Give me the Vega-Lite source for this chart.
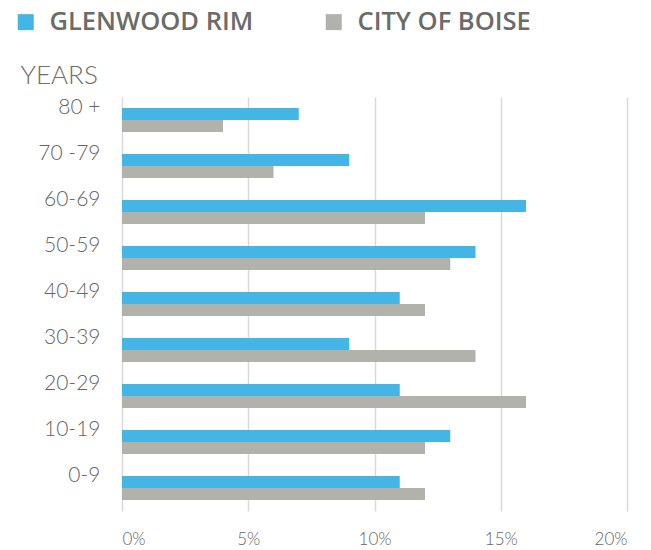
{
  "$schema": "https://vega.github.io/schema/vega-lite/v6.json",
  "autosize": {"type": "none"},
  "width": 505,
  "height": 414,
  "padding": {"left": 122, "top": 97, "right": 24, "bottom": 39},
  "background": "white",
  "config": {
    "font": "Lato",
    "view": {"stroke": null}
  },
  "data": {
    "values": [
      {"age": "80 +", "series": "GLENWOOD RIM", "pct": 0.07},
      {"age": "80 +", "series": "CITY OF BOISE", "pct": 0.04},
      {"age": "70 -79", "series": "GLENWOOD RIM", "pct": 0.09},
      {"age": "70 -79", "series": "CITY OF BOISE", "pct": 0.06},
      {"age": "60-69", "series": "GLENWOOD RIM", "pct": 0.16},
      {"age": "60-69", "series": "CITY OF BOISE", "pct": 0.12},
      {"age": "50-59", "series": "GLENWOOD RIM", "pct": 0.14},
      {"age": "50-59", "series": "CITY OF BOISE", "pct": 0.13},
      {"age": "40-49", "series": "GLENWOOD RIM", "pct": 0.11},
      {"age": "40-49", "series": "CITY OF BOISE", "pct": 0.12},
      {"age": "30-39", "series": "GLENWOOD RIM", "pct": 0.09},
      {"age": "30-39", "series": "CITY OF BOISE", "pct": 0.14},
      {"age": "20-29", "series": "GLENWOOD RIM", "pct": 0.11},
      {"age": "20-29", "series": "CITY OF BOISE", "pct": 0.16},
      {"age": "10-19", "series": "GLENWOOD RIM", "pct": 0.13},
      {"age": "10-19", "series": "CITY OF BOISE", "pct": 0.12},
      {"age": "0-9", "series": "GLENWOOD RIM", "pct": 0.11},
      {"age": "0-9", "series": "CITY OF BOISE", "pct": 0.12}
    ]
  },
  "mark": {"type": "bar"},
  "encoding": {
    "y": {
      "field": "age",
      "type": "nominal",
      "sort": null,
      "scale": {"paddingInner": 0.48, "paddingOuter": 0.24},
      "axis": {
        "title": "YEARS",
        "titleAngle": 0,
        "titleAlign": "left",
        "titleBaseline": "alphabetic",
        "titleX": -102,
        "titleY": -14,
        "titleFont": "Lato",
        "titleFontSize": 26,
        "titleFontWeight": 300,
        "titleColor": "#6d6e6a",
        "domain": false,
        "ticks": false,
        "labelFontSize": 21,
        "labelFontWeight": 300,
        "labelColor": "#666662",
        "labelPadding": 22,
        "labelOffset": -12,
        "labelBaseline": "middle"
      }
    },
    "yOffset": {
      "field": "series",
      "type": "nominal",
      "sort": ["GLENWOOD RIM", "CITY OF BOISE"],
      "scale": {"paddingInner": 0, "paddingOuter": 0}
    },
    "x": {
      "field": "pct",
      "type": "quantitative",
      "scale": {"domain": [0, 0.2], "nice": false},
      "axis": {
        "title": null,
        "values": [0, 0.05, 0.1, 0.15, 0.2],
        "format": ".0%",
        "domain": false,
        "ticks": false,
        "grid": true,
        "gridColor": "#d9d9d9",
        "gridWidth": 1.5,
        "labelFontSize": 17,
        "labelFontWeight": 300,
        "labelColor": "#666662",
        "labelPadding": 20
      }
    },
    "color": {
      "field": "series",
      "type": "nominal",
      "sort": ["GLENWOOD RIM", "CITY OF BOISE"],
      "scale": {"domain": ["GLENWOOD RIM", "CITY OF BOISE"], "range": ["#45b5e6", "#b2b2ad"]},
      "legend": {
        "title": null,
        "orient": "none",
        "direction": "horizontal",
        "legendX": -109,
        "legendY": -88,
        "symbolType": "square",
        "symbolSize": 256,
        "symbolStrokeWidth": 0,
        "symbolOpacity": 1,
        "labelFont": "Open Sans",
        "labelFontSize": 25.5,
        "labelFontWeight": 600,
        "labelColor": "#6b6b67",
        "labelOffset": 11,
        "labelLimit": 400,
        "columnPadding": 67,
        "padding": 0
      }
    }
  }
}
